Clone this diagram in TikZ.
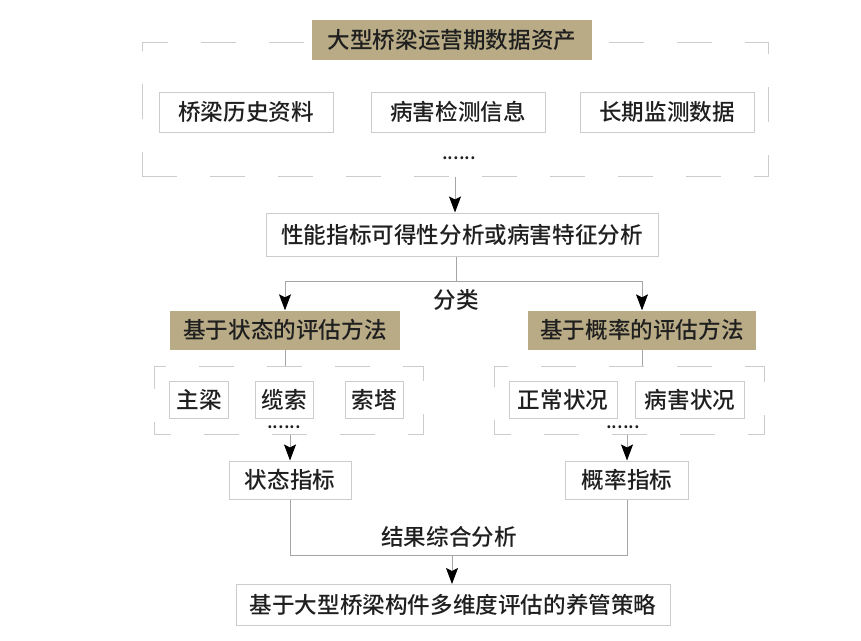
\documentclass[tikz,border=0pt]{standalone}
\usepackage{fontspec}
\setmainfont{Noto Sans CJK SC}[UprightFont=* Medium]
\usepackage{tikz}
\usetikzlibrary{arrows.meta,fit}

\definecolor{khaki}{RGB}{184,171,134}
\definecolor{boxgray}{RGB}{204,204,204}
\definecolor{linegray}{RGB}{165,165,165}

\begin{document}
\begin{tikzpicture}[x=1pt, y=-1pt,
    every node/.style={font=\fontsize{22.6}{26}\selectfont, text=black!88},
    plainbox/.style={draw=boxgray, line width=1pt, fill=white, inner sep=0pt},
    headbox/.style={fill=khaki, inner sep=0pt},
    groupbox/.style={draw=boxgray, line width=1pt, dash pattern=on 35pt off 33pt, dash phase=18pt, inner sep=0pt},
    dots/.style={inner sep=0pt, font=\fontsize{19}{20}\selectfont},
    conn/.style={draw=linegray, line width=0.9pt},
    arr/.style={conn, -{Stealth[length=16pt, width=12pt, inset=3pt, color=black]}}]

    \useasboundingbox (0,0) rectangle (861,640);

    % Data assets
    \node[groupbox, dash phase=0pt, fit={(142,42) (768,176)}] (assets) {};
    \node[headbox, minimum width=280pt, minimum height=40pt] (assettitle) at (452,40) {大型桥梁运营期数据资产};
    \node[plainbox, minimum width=174pt, minimum height=40pt] (history) at (246,112) {桥梁历史资料};
    \node[plainbox, minimum width=174pt, minimum height=40pt] (inspect) at (458,112) {病害检测信息};
    \node[plainbox, minimum width=174pt, minimum height=40pt] (monitor) at (667,112) {长期监测数据};
    \node[dots] (assetdots) at (459,158) {......};

    % Analysis
    \node[plainbox, minimum width=392pt, minimum height=43pt] (analysis) at (462,234.5) {性能指标可得性分析或病害特征分析};
    \draw[arr] (assets.south) -- (assets.south |- analysis.north);

    % Classification
    \coordinate (split) at (456,281);
    \draw[conn] (analysis.south -| split) -- (split);
    \node (classify) at (456,300) {分类};
    \node[headbox, minimum width=230pt, minimum height=39pt] (statemethod) at (285,330) {基于状态的评估方法};
    \node[headbox, minimum width=228pt, minimum height=39pt] (probmethod) at (642,330) {基于概率的评估方法};
    \draw[arr] (split) -| (statemethod.north);
    \draw[arr] (split) -| (probmethod.north);

    % State based
    \node[groupbox, fit={(154,366) (423,434)}] (stategrp) {};
    \draw[conn] (statemethod.south) -- (statemethod.south |- stategrp.north);
    \node[plainbox, minimum width=59pt, minimum height=37pt] (girder) at (199,400) {主梁};
    \node[plainbox, minimum width=58pt, minimum height=37pt] (cable) at (284,400) {缆索};
    \node[plainbox, minimum width=58pt, minimum height=37pt] (tower) at (374,400) {索塔};
    \node[dots] (statedots) at (284,427) {......};
    \node[plainbox, minimum width=122pt, minimum height=38pt] (stateidx) at (290,480) {状态指标};
    \draw[arr] (stateidx.north |- stategrp.south) -- (stateidx.north);

    % Probability based
    \node[groupbox, fit={(494,366) (764,434)}] (probgrp) {};
    \draw[conn] (probmethod.south) -- (probmethod.south |- probgrp.north);
    \node[plainbox, minimum width=108pt, minimum height=37pt] (normal) at (563,400) {正常状况};
    \node[plainbox, minimum width=109pt, minimum height=37pt] (damaged) at (690,400) {病害状况};
    \node[dots] (probdots) at (623,427) {......};
    \node[plainbox, minimum width=123pt, minimum height=38pt] (probidx) at (627,480) {概率指标};
    \draw[arr] (probidx.north |- probgrp.south) -- (probidx.north);

    % Combined result
    \coordinate (merge) at (452,555);
    \draw[conn] (stateidx.south) |- (merge) -| (probidx.south);
    \node (combine) at (449,537) {结果综合分析};
    \node[plainbox, minimum width=434pt, minimum height=41pt] (strategy) at (453,605) {基于大型桥梁构件多维度评估的养管策略};
    \draw[arr] (merge) -- (merge |- strategy.north);

\end{tikzpicture}
\end{document}
